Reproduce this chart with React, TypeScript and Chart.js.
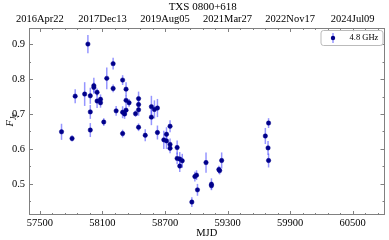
import React, { useEffect, useRef } from "react";
import { Chart, registerables } from "chart.js";
Chart.register(...registerables);

const mjd = [
  57707, 57808, 57838, 57929, 57960, 57983, 57983, 57983, 58017, 58017,
  58048, 58048, 58081, 58081, 58112, 58141, 58202, 58202, 58231, 58293,
  58293, 58293, 58312, 58326, 58326, 58326, 58355, 58417, 58446, 58446,
  58446, 58446, 58510, 58569, 58569, 58598, 58627, 58627, 58688, 58714,
  58714, 58748, 58748, 58748, 58816, 58816, 58841, 58865, 58841, 58957,
  58986, 59002, 59011, 59093, 59145, 59145, 59216, 59224, 59243, 59662,
  59693, 59688, 59693,
];
const flux = [
  0.649, 0.630, 0.751, 0.757, 0.900, 0.654, 0.706, 0.752, 0.781, 0.776,
  0.762, 0.737, 0.742, 0.732, 0.677, 0.802, 0.844, 0.773, 0.709, 0.797,
  0.705, 0.644, 0.700, 0.771, 0.739, 0.711, 0.732, 0.701, 0.744, 0.727,
  0.712, 0.662, 0.639, 0.721, 0.691, 0.713, 0.717, 0.647, 0.626, 0.642,
  0.623, 0.665, 0.613, 0.602, 0.604, 0.573, 0.571, 0.566, 0.551, 0.448,
  0.521, 0.525, 0.483, 0.561, 0.499, 0.495, 0.541, 0.538, 0.567, 0.637,
  0.674, 0.603, 0.567,
];
const fluxErr = [
  0.023, 0.009, 0.020, 0.034, 0.026, 0.020, 0.020, 0.023, 0.023, 0.014,
  0.011, 0.020, 0.014, 0.014, 0.011, 0.031, 0.017, 0.011, 0.014, 0.014,
  0.017, 0.011, 0.014, 0.020, 0.014, 0.014, 0.011, 0.009, 0.020, 0.017,
  0.017, 0.011, 0.017, 0.031, 0.023, 0.026, 0.026, 0.020, 0.026, 0.020,
  0.023, 0.017, 0.017, 0.014, 0.020, 0.017, 0.020, 0.020, 0.017, 0.014,
  0.014, 0.014, 0.017, 0.029, 0.017, 0.011, 0.011, 0.011, 0.023, 0.023,
  0.014, 0.020, 0.020,
];

const xTicks = [57500, 58100, 58700, 59300, 59900, 60500];
const dateLabels = ["2016Apr22", "2017Dec13", "2019Aug05", "2021Mar27", "2022Nov17", "2024Jul09"];
const yTicks = [0.5, 0.6, 0.7, 0.8, 0.9];
const X_MIN = 57395;
const X_MAX = 60805;
const Y_MIN = 0.411;
const Y_MAX = 0.946;
const X_MINOR_STEP = 120;
const Y_MINOR_STEP = 0.05;

const TITLE = "TXS 0800+618";
const X_TITLE = "MJD";
const LEGEND_LABEL = "4.8 GHz";

const SERIF = "'Liberation Serif', 'DejaVu Serif', serif";
const AXIS_COLOR = "#808080";
const MARKER_COLOR = "#00008b";
const ERR_COLOR = "rgba(80,80,255,0.6)";

const overlayPlugin = {
  id: "overlay",
  beforeDatasetsDraw(chart: any) {
    const ctx = chart.ctx;
    const xs = chart.scales.x;
    const ys = chart.scales.y;
    ctx.save();
    ctx.strokeStyle = ERR_COLOR;
    ctx.lineWidth = 1.5;
    for (let i = 0; i < mjd.length; i++) {
      const px = xs.getPixelForValue(mjd[i]);
      ctx.beginPath();
      ctx.moveTo(px, ys.getPixelForValue(flux[i] - fluxErr[i]));
      ctx.lineTo(px, ys.getPixelForValue(flux[i] + fluxErr[i]));
      ctx.stroke();
    }
    ctx.restore();
  },
  afterDraw(chart: any) {
    const ctx = chart.ctx;
    const a = chart.chartArea;
    const xs = chart.scales.x;
    const ys = chart.scales.y;
    ctx.save();
    // frame
    ctx.strokeStyle = AXIS_COLOR;
    ctx.lineWidth = 1;
    ctx.strokeRect(Math.round(a.left) + 0.5, Math.round(a.top) + 0.5, Math.round(a.right - a.left) - 1, Math.round(a.bottom - a.top) - 1);
    // ticks
    const drawX = (v: number, len: number) => {
      const p = Math.round(xs.getPixelForValue(v)) + 0.5;
      ctx.beginPath();
      ctx.moveTo(p, a.bottom);
      ctx.lineTo(p, a.bottom - len);
      ctx.moveTo(p, a.top);
      ctx.lineTo(p, a.top + len);
      ctx.stroke();
    };
    const drawY = (v: number, len: number) => {
      const p = Math.round(ys.getPixelForValue(v)) + 0.5;
      ctx.beginPath();
      ctx.moveTo(a.left, p);
      ctx.lineTo(a.left + len, p);
      ctx.moveTo(a.right, p);
      ctx.lineTo(a.right - len, p);
      ctx.stroke();
    };
    for (let v = xTicks[0] - X_MINOR_STEP; v <= X_MAX; v += X_MINOR_STEP) {
      if (v < X_MIN) continue;
      const isMajor = xTicks.includes(v);
      drawX(v, isMajor ? 4 : 2);
    }
    for (let k = 0; ; k++) {
      const v = +(0.45 + k * Y_MINOR_STEP).toFixed(3);
      if (v > Y_MAX) break;
      const isMajor = yTicks.some((t) => Math.abs(t - v) < 1e-6);
      drawY(v, isMajor ? 4 : 2);
    }
    // title
    ctx.fillStyle = "#000";
    ctx.font = `11px ${SERIF}`;
    ctx.textAlign = "center";
    ctx.textBaseline = "alphabetic";
    ctx.fillText(TITLE, (a.left + a.right) / 2 - 4, 9.5);
    // x title
    ctx.font = `10.5px ${SERIF}`;
    ctx.fillText(X_TITLE, (a.left + a.right) / 2, 236);
    // y title F_Jy
    ctx.save();
    ctx.translate(13, 120);
    ctx.rotate(-Math.PI / 2);
    ctx.textAlign = "left";
    ctx.font = `italic 10.5px ${SERIF}`;
    const fw = ctx.measureText("F").width;
    ctx.font = `italic 7.5px ${SERIF}`;
    const jw = ctx.measureText("Jy").width;
    const start = -(fw + jw) / 2;
    ctx.font = `italic 10.5px ${SERIF}`;
    ctx.fillText("F", start, 0);
    ctx.font = `italic 7.5px ${SERIF}`;
    ctx.fillText("Jy", start + fw, 2.5);
    ctx.restore();
    // legend
    const lx = a.right - 64, ly = a.top + 2, lw = 62, lh = 15;
    ctx.fillStyle = "rgba(255,255,255,0.85)";
    ctx.strokeStyle = "#bbbbbb";
    ctx.lineWidth = 1;
    ctx.beginPath();
    (ctx as any).roundRect(lx + 0.5, ly + 0.5, lw, lh, 2.5);
    ctx.fill();
    ctx.stroke();
    const mx = lx + 12.5, my = ly + lh / 2 + 0.5;
    ctx.strokeStyle = ERR_COLOR;
    ctx.lineWidth = 1.5;
    ctx.beginPath();
    ctx.moveTo(mx, my - 5);
    ctx.lineTo(mx, my + 5);
    ctx.stroke();
    ctx.fillStyle = MARKER_COLOR;
    ctx.beginPath();
    ctx.arc(mx, my, 2.2, 0, Math.PI * 2);
    ctx.fill();
    ctx.fillStyle = "#000";
    ctx.font = `8.5px ${SERIF}`;
    ctx.textAlign = "left";
    ctx.textBaseline = "middle";
    ctx.fillText(LEGEND_LABEL, lx + 29, my);
    ctx.restore();
  },
};

export default function App() {
  const ref = useRef<HTMLCanvasElement | null>(null);
  useEffect(() => {
    if (!ref.current) return;
    const font = { family: SERIF, size: 10.5 };
    const grid = { display: false, drawTicks: false };
    const chart = new Chart(ref.current, {
      type: "scatter",
      data: {
        datasets: [
          {
            label: LEGEND_LABEL,
            data: mjd.map((m, i) => ({ x: m, y: flux[i] })),
            pointStyle: "circle",
            pointRadius: 2.2,
            pointBackgroundColor: MARKER_COLOR,
            pointBorderColor: MARKER_COLOR,
            pointBorderWidth: 0.5,
          },
        ],
      },
      options: {
        responsive: false,
        animation: false,
        layout: { padding: { left: 0, right: 2, top: 0, bottom: 0 } },
        plugins: { legend: { display: false }, tooltip: { enabled: false }, title: { display: false } },
        scales: {
          x: {
            type: "linear",
            position: "bottom",
            min: X_MIN,
            max: X_MAX,
            grid,
            border: { display: false },
            afterBuildTicks: (s: any) => { s.ticks = xTicks.map((v) => ({ value: v })); },
            afterFit: (s: any) => { s.height = 25; },
            ticks: { color: "#000", font, padding: 2, maxRotation: 0, autoSkip: false, callback: (v: any) => String(v) },
          },
          x2: {
            type: "linear",
            position: "top",
            min: X_MIN,
            max: X_MAX,
            grid,
            border: { display: false },
            afterBuildTicks: (s: any) => { s.ticks = xTicks.map((v) => ({ value: v })); },
            afterFit: (s: any) => { s.height = 28; },
            ticks: {
              color: "#000",
              font,
              padding: 2,
              maxRotation: 0,
              autoSkip: false,
              callback: (v: any) => dateLabels[xTicks.indexOf(Number(v))] ?? "",
            },
          },
          y: {
            type: "linear",
            position: "left",
            min: Y_MIN,
            max: Y_MAX,
            grid,
            border: { display: false },
            afterBuildTicks: (s: any) => { s.ticks = yTicks.map((v) => ({ value: v })); },
            afterFit: (s: any) => { s.width = 29; },
            ticks: { color: "#000", font, padding: 4, callback: (v: any) => Number(v).toFixed(1) },
          },
        },
      },
      plugins: [overlayPlugin],
    } as any);
    return () => chart.destroy();
  }, []);
  return (
    <div style={{ position: "absolute", left: 0, top: 0, width: 389, height: 240, background: "#fff" }}>
      <canvas ref={ref} width={389} height={240} style={{ display: "block" }} />
    </div>
  );
}
